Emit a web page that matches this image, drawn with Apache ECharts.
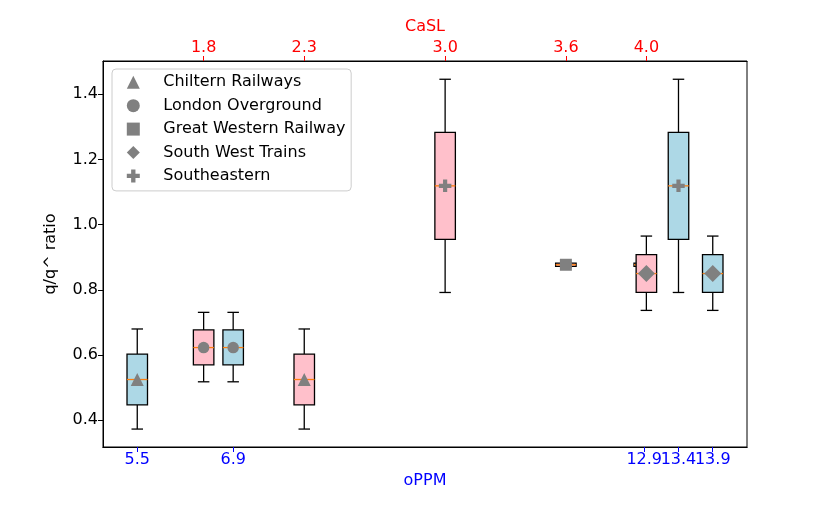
<!DOCTYPE html>
<html>
<head>
<meta charset="utf-8">
<script src="https://cdn.jsdelivr.net/npm/echarts@6/dist/echarts.min.js"></script>
<style>
  html, body { margin: 0; padding: 0; background: #fff; }
  #chart { width: 830px; height: 511px; }
</style>
</head>
<body>
<div id="chart"></div>
<script>
// operators, in legend order
var companies = ['Chiltern Railways', 'London Overground', 'Great Western Railway', 'South West Trains', 'Southeastern'];
// position of each operator's box on the two x axes
var oppmPos = [5.5, 6.9, 12.9, 13.9, 13.4];
var caslPos = [2.3, 1.8, 3.6, 4.0, 3.0];
// q/q^ ratio box statistics (same distribution drawn on both axes)
var whiskLow = [0.373, 0.518, 0.870, 0.737, 0.792];
var quart1 = [0.447, 0.570, 0.872, 0.792, 0.955];
var median = [0.525, 0.623, 0.877, 0.850, 1.119];
var quart3 = [0.603, 0.677, 0.882, 0.908, 1.283];
var whiskHigh = [0.680, 0.731, 0.884, 0.965, 1.446];
// tick labels
var oppmTicks = [5.5, 6.9, 12.9, 13.4, 13.9];
var caslTicks = [1.8, 2.3, 3.0, 3.6, 4.0];
var ratioTicks = [0.4, 0.6, 0.8, 1.0, 1.2, 1.4];

var FONT = 'DejaVu Sans';
var BOX_W = 20.5, CAP_W = 11.5, LW = 1.3;
var markerStyle = [
    { symbol: 'triangle', size: 13 },
    { symbol: 'circle', size: 11.5 },
    { symbol: 'rect', size: 12 },
    { symbol: 'diamond', size: 17 },
    { symbol: 'path://M1,0H2V1H3V2H2V3H1V2H0V1H1Z', size: 12.5 }
];

function boxRows(pos) {
    return companies.map((c, i) => [pos[i], whiskLow[i], quart1[i], median[i], quart3[i], whiskHigh[i]]);
}

function renderBox(params, api) {
    var x = api.value(0);
    var lo = api.coord([x, api.value(1)]);
    var b1 = api.coord([x, api.value(2)]);
    var md = api.coord([x, api.value(3)]);
    var b3 = api.coord([x, api.value(4)]);
    var hi = api.coord([x, api.value(5)]);
    var cx = lo[0];
    var line = { stroke: '#000', lineWidth: LW };
    return {
        type: 'group',
        children: [
            { type: 'line', shape: { x1: cx, y1: hi[1], x2: cx, y2: b3[1] }, style: line },
            { type: 'line', shape: { x1: cx, y1: b1[1], x2: cx, y2: lo[1] }, style: line },
            { type: 'line', shape: { x1: cx - CAP_W / 2, y1: hi[1], x2: cx + CAP_W / 2, y2: hi[1] }, style: line },
            { type: 'line', shape: { x1: cx - CAP_W / 2, y1: lo[1], x2: cx + CAP_W / 2, y2: lo[1] }, style: line },
            {
                type: 'rect',
                shape: { x: cx - BOX_W / 2, y: b3[1], width: BOX_W, height: b1[1] - b3[1] },
                style: { fill: api.visual('color'), stroke: '#000', lineWidth: LW }
            },
            { type: 'line', shape: { x1: cx - BOX_W / 2, y1: md[1], x2: cx + BOX_W / 2, y2: md[1] }, style: { stroke: '#ff7f0e', lineWidth: LW } }
        ]
    };
}

function boxSeries(name, axisIndex, pos, fill, z) {
    return {
        name: name,
        type: 'custom',
        xAxisIndex: axisIndex,
        z: z,
        renderItem: renderBox,
        itemStyle: { color: fill },
        encode: { x: 0, y: [1, 2, 3, 4, 5] },
        data: boxRows(pos),
        silent: true
    };
}

function markerSeries(axisIndex, pos, z) {
    return companies.map((c, i) => ({
        name: c,
        type: 'scatter',
        xAxisIndex: axisIndex,
        z: z,
        symbol: markerStyle[i].symbol,
        symbolSize: markerStyle[i].size,
        itemStyle: { color: '#808080', opacity: 1 },
        data: [[pos[i], median[i]]],
        silent: true
    }));
}

function axisBase(color, ticks) {
    return {
        type: 'value',
        splitLine: { show: false },
        axisLine: { show: true, onZero: false, lineStyle: { color: '#000', width: 1 } },
        axisTick: { show: true, length: 5, customValues: ticks, lineStyle: { color: color, width: 1 } },
        axisLabel: {
            customValues: ticks, color: color, fontSize: 16, fontFamily: FONT, margin: 5,
            hideOverlap: false, showMinLabel: true, showMaxLabel: true,
            formatter: v => v.toFixed(1)
        },
        nameTextStyle: { color: color, fontSize: 16, fontFamily: FONT }
    };
}

// the right-hand oPPM labels touch each other, and ECharts drops one of them;
// put every other label on a second, coincident bottom axis so all five show
var oppmTicksA = oppmTicks.filter((v, i) => i % 2 === 0);
var oppmTicksB = oppmTicks.filter((v, i) => i % 2 === 1);

var chart = echarts.init(document.getElementById('chart'));
var option = {
    animation: false,
    textStyle: { fontFamily: FONT },
    grid: {
        left: 103, right: 83, top: 61, bottom: 64,
        show: true, borderColor: '#000', borderWidth: 1,
        outerBoundsMode: 'none'
    },
    legend: {
        orient: 'vertical', left: 112, top: 69, z: 20,
        itemWidth: 13, itemHeight: 13, itemGap: 7.4,
        padding: [5.3, 5.7, 7, 14.8],
        borderColor: '#cccccc', borderWidth: 1, borderRadius: 4,
        backgroundColor: 'rgba(255,255,255,0.8)',
        selectedMode: false,
        textStyle: { fontSize: 16, color: '#000', fontFamily: FONT, lineHeight: 16, padding: [0, 0, 0, 18.5] },
        data: companies
    },
    xAxis: [
        Object.assign(axisBase('#0000ff', oppmTicksA), {
            position: 'bottom', min: 5.0, max: 14.4,
            name: 'oPPM', nameLocation: 'middle', nameGap: 25
        }),
        Object.assign(axisBase('#ff0000', caslTicks), {
            position: 'top', min: 1.3, max: 4.5,
            name: 'CaSL', nameLocation: 'middle', nameGap: 21
        }),
        Object.assign(axisBase('#0000ff', oppmTicksB), {
            position: 'bottom', offset: 0, min: 5.0, max: 14.4
        })
    ],
    yAxis: Object.assign(axisBase('#000', ratioTicks), {
        min: 0.318, max: 1.502,
        name: 'q/q^ ratio', nameLocation: 'middle', nameGap: 44, nameRotate: 90
    }),
    series: [].concat(
        [boxSeries('oPPM', 0, oppmPos, '#add8e6', 2)],
        markerSeries(0, oppmPos, 3),
        [boxSeries('CaSL', 1, caslPos, '#ffc0cb', 4)],
        markerSeries(1, caslPos, 5)
    )
};
chart.setOption(option);
</script>
</body>
</html>
